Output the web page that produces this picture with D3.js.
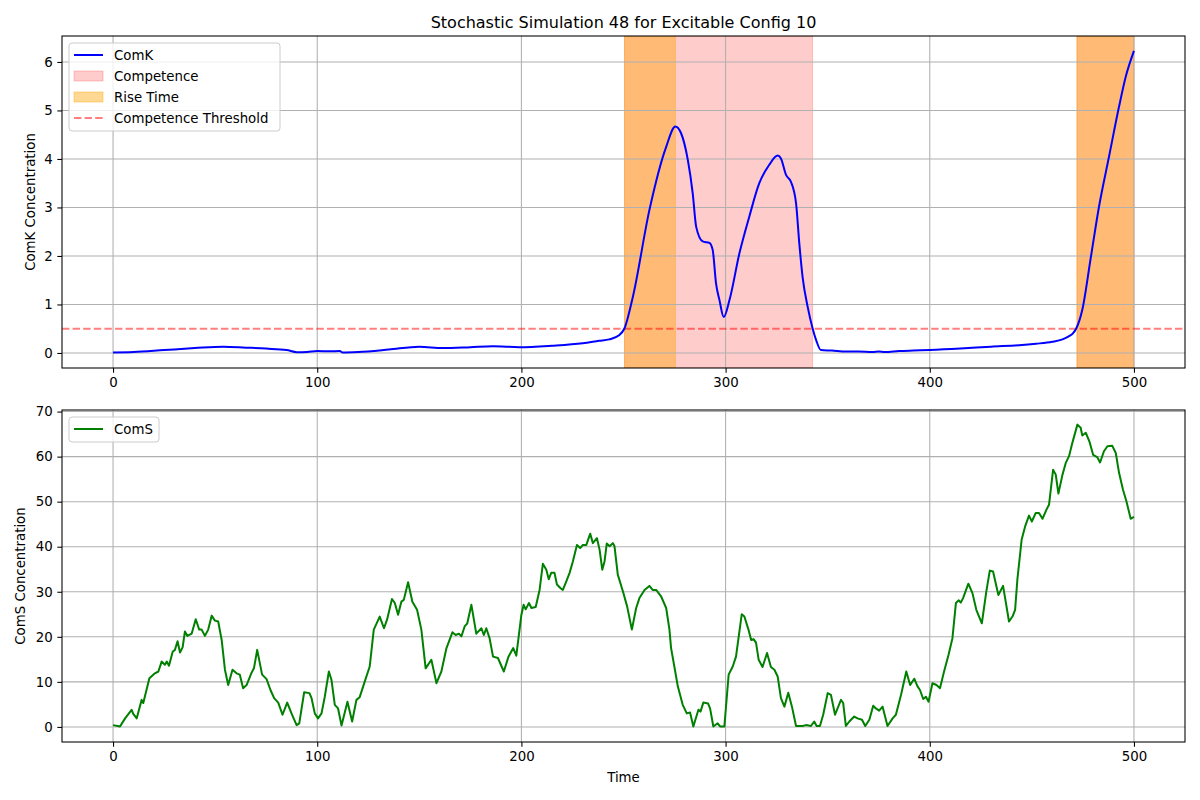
<!DOCTYPE html>
<html>
<head>
<meta charset="utf-8">
<script src="https://cdn.jsdelivr.net/npm/d3@7"></script>
<style>
  body { margin: 0; background: #fff; }
  svg { font-family: "DejaVu Sans", sans-serif; }
</style>
</head>
<body>
<div id="d3-container"></div>
<script>
// ---- data ----
const chartTitle = "Stochastic Simulation 48 for Excitable Config 10";

const comkTime = [0, 10, 25, 40, 54, 65, 75, 85, 90, 95, 100, 106, 111, 112.5, 120, 135, 150, 161.5, 175, 186,
  199, 215, 230, 238, 243, 248, 250.5, 254.6, 262.7, 270.9, 275.4, 278.2, 281.5, 283.9, 285.6, 288.8, 292.1,
  293.7, 295.3, 297, 299.1, 301.9, 306.8, 311.6, 316.5, 321.4, 325.5, 327.1, 329.6, 332, 334.5, 336.1, 337.7,
  340.2, 342.6, 344.3, 346.7, 352, 359, 365, 372, 375, 378, 385, 392, 400, 415, 430, 443.7, 452, 460, 465, 468,
  470, 471.8, 474.7, 478.8, 482.9, 487.8, 492.7, 496, 500];
const comkValues = [0.01, 0.02, 0.06, 0.1, 0.13, 0.11, 0.09, 0.06, 0.015, 0.02, 0.04, 0.035, 0.04, 0.01, 0.02, 0.07,
  0.13, 0.1, 0.12, 0.14, 0.12, 0.15, 0.2, 0.25, 0.28, 0.37, 0.51, 1.16, 2.95, 4.25, 4.67, 4.53, 3.98, 3.29, 2.6,
  2.3, 2.27, 2.12, 1.44, 1.09, 0.74, 1.09, 2.06, 2.81, 3.5, 3.88, 4.07, 4.01, 3.67, 3.53, 3.09, 2.26, 1.57, 0.95,
  0.51, 0.27, 0.06, 0.05, 0.03, 0.03, 0.02, 0.03, 0.02, 0.04, 0.05, 0.06, 0.09, 0.13, 0.16, 0.19, 0.23, 0.28,
  0.34, 0.4, 0.51, 0.89, 1.95, 3.02, 4.05, 5.08, 5.7, 6.23];

const comsTime = [0, 3.4, 5.9, 9.1, 9.9, 11.6, 14, 14.8, 17.8, 20.5, 22.2, 23.8, 25.4, 26.3, 27.4, 29.2, 30.3, 31.6,
  32.8, 34.1, 35.2, 36.4, 38.5, 40.5, 42.2, 43.4, 45, 46.6, 48.3, 49.9, 51.5, 53.2, 54.8, 56.4, 58.5, 60.5, 62.1,
  63.7, 65.4, 67.9, 69, 70.6, 73, 75.2, 77.1, 78.9, 80.9, 83, 85.3, 87.4, 89.9, 91.2, 93.6, 96.2, 97.2, 98.8,
  100.4, 102.1, 103.7, 105.7, 107, 108.6, 110.2, 111.9, 114.8, 117.1, 119.2, 120.8, 123.3, 125.7, 127.7, 130.6,
  132.7, 134.2, 136.6, 138, 139.6, 141.2, 142.4, 144.5, 146.6, 148.9, 151, 153.1, 155.9, 158.4, 160.8, 163.3,
  166.2, 167.8, 169.4, 170.6, 172.2, 173.5, 175.5, 177.9, 180.4, 181.6, 182.8, 184.4, 186.1, 188.5, 191.4,
  193.6, 196, 197.5, 200, 201.1, 202.1, 203.7, 204.9, 207, 208.9, 210.5, 212.2, 213.4, 214.6, 216.2, 217.4,
  219.2, 220.3, 222, 223.6, 225.2, 227.2, 228.8, 230.1, 231.8, 233.7, 235, 237, 238.3, 239.6, 240.7, 241.8,
  243.2, 244.8, 245.6, 247.2, 249.7, 251.8, 254.1, 256.2, 257.8, 260.3, 262.7, 264.3, 266, 268.4, 270.9, 272.5,
  273.3, 274.9, 276.6, 279, 281, 282.6, 284.2, 286.7, 287.7, 289.1, 291.4, 292.4, 294, 296.1, 297.3, 299.4,
  301.5, 303.5, 305.1, 307.9, 309.2, 311.2, 312.5, 313.7, 314.9, 316.2, 318.1, 320.3, 322.2, 323.9, 325.5,
  327.1, 328.8, 330.7, 332.5, 334.5, 337.7, 339.4, 341.8, 343.4, 344.6, 346.2, 347.8, 350, 351.6, 353.6, 356.5,
  357.6, 358.9, 360.6, 363, 364.6, 366.8, 368.4, 370.4, 372.3, 373.6, 375.2, 376.9, 379.3, 381.8, 383.4, 385.9,
  388.5, 390.4, 392.4, 394, 395.2, 396.8, 398.1, 399.4, 401.3, 403.3, 405, 407, 409.2, 411.1, 412.8, 414.1,
  415.2, 416.3, 418.9, 420.9, 422.8, 425.5, 427.7, 429.4, 431, 433.6, 435.9, 438.8, 440.5, 441.8, 442.9, 445,
  446.7, 448.6, 450, 451.9, 453.5, 455.2, 457.1, 458.4, 460.4, 461.7, 463, 465, 466.6, 468.2, 469.8, 472.3,
  473.9, 474.7, 476.4, 478.3, 480, 482, 483.4, 485.3, 487, 489.4, 491.1, 492.7, 494.6, 496.3, 498.4, 500];
const comsValues = [0.4, 0.1, 1.9, 3.8, 2.9, 1.9, 6, 5.3, 10.8, 11.9, 12.3, 14.5, 13.8, 14.5, 13.6, 16.7, 17.1, 19,
  16.5, 17.7, 21.2, 20.2, 20.7, 23.9, 21.6, 21.6, 20.2, 21.6, 24.7, 23.6, 23.4, 19.3, 12.7, 9.3, 12.7, 11.9, 11.6,
  8.6, 9.3, 12.1, 13, 17.1, 11.6, 10.6, 8.2, 6.4, 5.4, 2.7, 5.4, 3, 0.4, 0.8, 7.7, 7.5, 6.4, 3,
  1.9, 3, 6.7, 12.3, 10.4, 4.9, 4.1, 0.3, 5.6, 1.2, 6, 6.6, 10.1, 13.4, 21.6, 24.5,
  21.9, 23.8, 28.4, 27.5, 24.9, 27.8, 28.2, 32.1, 27.8, 26, 21.6, 13, 14.9, 9.7, 12.3, 17.5,
  21, 20.4, 20.7, 20.1, 22.3, 23, 27.1, 20.7, 21.9, 20.4, 21.9, 19.7, 15.6, 15.3, 12.3,
  15.5, 17.5, 15.8, 24.9, 27.1, 26.1, 27.5, 26.4, 26.6, 30.4, 36.2, 34.9, 32.8, 34.2, 34.2, 31.6,
  30.8, 30.4, 32.3, 34.2, 36.7, 40.4, 39.7, 40.4, 40.4, 42.9, 40.8, 41.9, 39.3, 34.9, 36.7, 40.7,
  40.1, 40.8, 40.1, 33.8, 30.1, 26.7, 21.6, 26.4, 28.6, 30.4, 31.3, 30.4, 30.4, 29, 26.4, 21.6,
  17.5, 13.4, 9, 4.9, 3, 3.2, 0.1, 3.8, 3.4, 5.4, 5.2, 4.1, 0.1, 0.8, 0.1, 0.1,
  11.6, 13.4, 15.6, 25, 24.5, 21.6, 19.3, 19.5, 18.7, 14.9, 13.3, 16.4, 13.3, 12.7, 11.2,
  6.4, 4.5, 7.6, 4.5, 0.2, 0.2, 0.4, 0.2, 1.2, 0.2, 0.2, 2.7, 7.5, 7.1, 2.7, 6,
  5.3, 0.2, 1.2, 2.3, 1.9, 1.6, 0.2, 1.6, 4.7, 4.1, 3.6, 4.5, 0.2, 1.9, 2.7, 7.1,
  12.3, 9.3, 10.7, 9, 8.2, 6.2, 6.7, 5.6, 9.7, 9.3, 8.6, 12.3, 16, 19.7, 27.5, 28.1,
  27.6, 28.6, 31.8, 29.7, 26, 23, 30.1, 34.7, 34.5, 29.3, 31.3, 23.4, 24.5, 26, 32.7, 41.6,
  44.5, 46.9, 45.6, 47.5, 47.5, 46.2, 48.2, 49.3, 57.1, 56, 51.8, 56, 58.6, 60.1, 63, 67.1,
  66.4, 64.7, 65.3, 63.2, 60.4, 59.9, 58.7, 61.2, 62.3, 62.4, 60.8, 56.4, 52.7, 50.1, 46.2, 46.6];

const competenceSpans = [[250.5, 342.6], [472.1, 500]];
const riseSpans = [[250.5, 275.4], [472.1, 500]];
const threshold = 0.5;

const xTicks = [0, 100, 200, 300, 400, 500];
const comkTicks = [0, 1, 2, 3, 4, 5, 6];
const comsTicks = [0, 10, 20, 30, 40, 50, 60, 70];

// ---- drawing ----
const width = 1200;
const height = 800;
const left = 62, right = 1185;
const top1 = { top: 36, bottom: 368 };
const top2 = { top: 410, bottom: 742 };
const pt = 4 / 3;

const svg = d3.select('#d3-container')
  .append('svg')
  .attr('width', width)
  .attr('height', height)
  .attr("viewBox", [0, 0, width, height]);

svg.append("rect").attr("width", width).attr("height", height).attr("fill", "#fff");

const x = d3.scaleLinear()
  .domain([-25, 525])
  .range([left, right]);

const yK = d3.scaleLinear()
  .domain([-0.31, 6.535])
  .range([top1.bottom, top1.top]);

const yS = d3.scaleLinear()
  .domain([-3.35, 70.35])
  .range([top2.bottom, top2.top]);

function grid(g, y, yTicks, box) {
  g.selectAll("line.vx")
    .data(xTicks)
    .join("line")
    .attr("class", "vx")
    .attr("x1", d => x(d)).attr("x2", d => x(d))
    .attr("y1", box.top).attr("y2", box.bottom);
  g.selectAll("line.hy")
    .data(yTicks)
    .join("line")
    .attr("class", "hy")
    .attr("x1", left).attr("x2", right)
    .attr("y1", d => y(d)).attr("y2", d => y(d));
  g.attr("stroke", "#b0b0b0").attr("stroke-width", 0.8 * pt);
}

function axes(y, yTicks, box) {
  svg.append("g")
    .attr("transform", `translate(0,${box.bottom})`)
    .call(d3.axisBottom(x).tickValues(xTicks).tickSize(3.5 * pt).tickPadding(3.5 * pt).tickFormat(d3.format("d")))
    .call(g => g.select(".domain").remove())
    .attr("font-size", "13.33px")
    .attr("font-family", "DejaVu Sans");
  svg.append("g")
    .attr("transform", `translate(${left},0)`)
    .call(d3.axisLeft(y).tickValues(yTicks).tickSize(3.5 * pt).tickPadding(3.5 * pt).tickFormat(d3.format("d")))
    .call(g => g.select(".domain").remove())
    .attr("font-size", "13.33px")
    .attr("font-family", "DejaVu Sans");
  svg.selectAll(".tick line").attr("stroke-width", 0.8 * pt);
  svg.append("rect")
    .attr("x", left).attr("y", box.top)
    .attr("width", right - left).attr("height", box.bottom - box.top)
    .attr("fill", "none").attr("stroke", "#000").attr("stroke-width", 0.8 * pt);
}

// top panel: spans, grid, threshold, ComK
const clip1 = svg.append("clipPath").attr("id", "clip1")
  .append("rect").attr("x", left).attr("y", top1.top)
  .attr("width", right - left).attr("height", top1.bottom - top1.top);

const p1 = svg.append("g").attr("clip-path", "url(#clip1)");

p1.append("g").selectAll("rect")
  .data(competenceSpans)
  .join("rect")
  .attr("x", d => x(d[0]))
  .attr("width", d => x(d[1]) - x(d[0]))
  .attr("y", top1.top).attr("height", top1.bottom - top1.top)
  .attr("fill", "red").attr("fill-opacity", 0.2)
  .attr("stroke", "red").attr("stroke-opacity", 0.2);

p1.append("g").selectAll("rect")
  .data(riseSpans)
  .join("rect")
  .attr("x", d => x(d[0]))
  .attr("width", d => x(d[1]) - x(d[0]))
  .attr("y", top1.top).attr("height", top1.bottom - top1.top)
  .attr("fill", "orange").attr("fill-opacity", 0.42)
  .attr("stroke", "orange").attr("stroke-opacity", 0.42);

p1.append("g").call(grid, yK, comkTicks, top1);

p1.append("line")
  .attr("x1", left).attr("x2", right)
  .attr("y1", yK(threshold)).attr("y2", yK(threshold))
  .attr("stroke", "red").attr("stroke-opacity", 0.5)
  .attr("stroke-width", 1.5 * pt)
  .attr("stroke-dasharray", `${5.55 * pt},${2.4 * pt}`);

const comk = comkTime.map((t, i) => [t, comkValues[i]]);
p1.append("path")
  .datum(comk)
  .attr("fill", "none")
  .attr("stroke", "blue")
  .attr("stroke-width", 1.5 * pt)
  .attr("stroke-linejoin", "round")
  .attr("d", d3.line().x(d => x(d[0])).y(d => yK(d[1])).curve(d3.curveMonotoneX));

axes(yK, comkTicks, top1);

// bottom panel: grid, ComS
const p2 = svg.append("g");
p2.append("g").call(grid, yS, comsTicks, top2);

const coms = comsTime.map((t, i) => [t, comsValues[i]]);
p2.append("path")
  .datum(coms)
  .attr("fill", "none")
  .attr("stroke", "green")
  .attr("stroke-width", 1.5 * pt)
  .attr("stroke-linejoin", "round")
  .attr("d", d3.line().x(d => x(d[0])).y(d => yS(d[1])));

axes(yS, comsTicks, top2);

// titles and labels
svg.append("text")
  .attr("x", (left + right) / 2).attr("y", 28)
  .attr("text-anchor", "middle").attr("font-size", "16px")
  .text(chartTitle);

svg.append("text")
  .attr("x", (left + right) / 2).attr("y", 782)
  .attr("text-anchor", "middle").attr("font-size", "13.33px")
  .text("Time");

svg.append("text")
  .attr("transform", `translate(35,${(top1.top + top1.bottom) / 2}) rotate(-90)`)
  .attr("text-anchor", "middle").attr("font-size", "13.33px")
  .text("ComK Concentration");

svg.append("text")
  .attr("transform", `translate(25,${(top2.top + top2.bottom) / 2}) rotate(-90)`)
  .attr("text-anchor", "middle").attr("font-size", "13.33px")
  .text("ComS Concentration");

// legends
function legend(x0, y0, w, items) {
  const g = svg.append("g").attr("font-size", "13.33px");
  g.append("rect")
    .attr("x", x0).attr("y", y0)
    .attr("width", w).attr("height", items.length * 21 + 4)
    .attr("rx", 3)
    .attr("fill", "#fff").attr("fill-opacity", 0.8)
    .attr("stroke", "#cccccc");
  items.forEach((it, i) => {
    const cy = y0 + 12 + i * 21;
    if (it.kind === "patch") {
      g.append("rect")
        .attr("x", x0 + 5).attr("y", cy - 5)
        .attr("width", 29).attr("height", 10)
        .attr("fill", it.color).attr("fill-opacity", it.alpha)
        .attr("stroke", it.color).attr("stroke-opacity", it.alpha);
    } else {
      g.append("line")
        .attr("x1", x0 + 5).attr("x2", x0 + 34)
        .attr("y1", cy).attr("y2", cy)
        .attr("stroke", it.color)
        .attr("stroke-opacity", it.alpha)
        .attr("stroke-width", 1.5 * pt)
        .attr("stroke-dasharray", it.dash || null);
    }
    g.append("text")
      .attr("x", x0 + 45).attr("y", cy + 5)
      .text(it.label);
  });
}

legend(69, 43, 211, [
  { kind: "line", color: "blue", alpha: 1, label: "ComK" },
  { kind: "patch", color: "red", alpha: 0.2, label: "Competence" },
  { kind: "patch", color: "orange", alpha: 0.42, label: "Rise Time" },
  { kind: "line", color: "red", alpha: 0.5, dash: `${5.55 * pt},${2.4 * pt}`, label: "Competence Threshold" }
]);

legend(69, 417, 90, [
  { kind: "line", color: "green", alpha: 1, label: "ComS" }
]);
</script>
</body>
</html>
